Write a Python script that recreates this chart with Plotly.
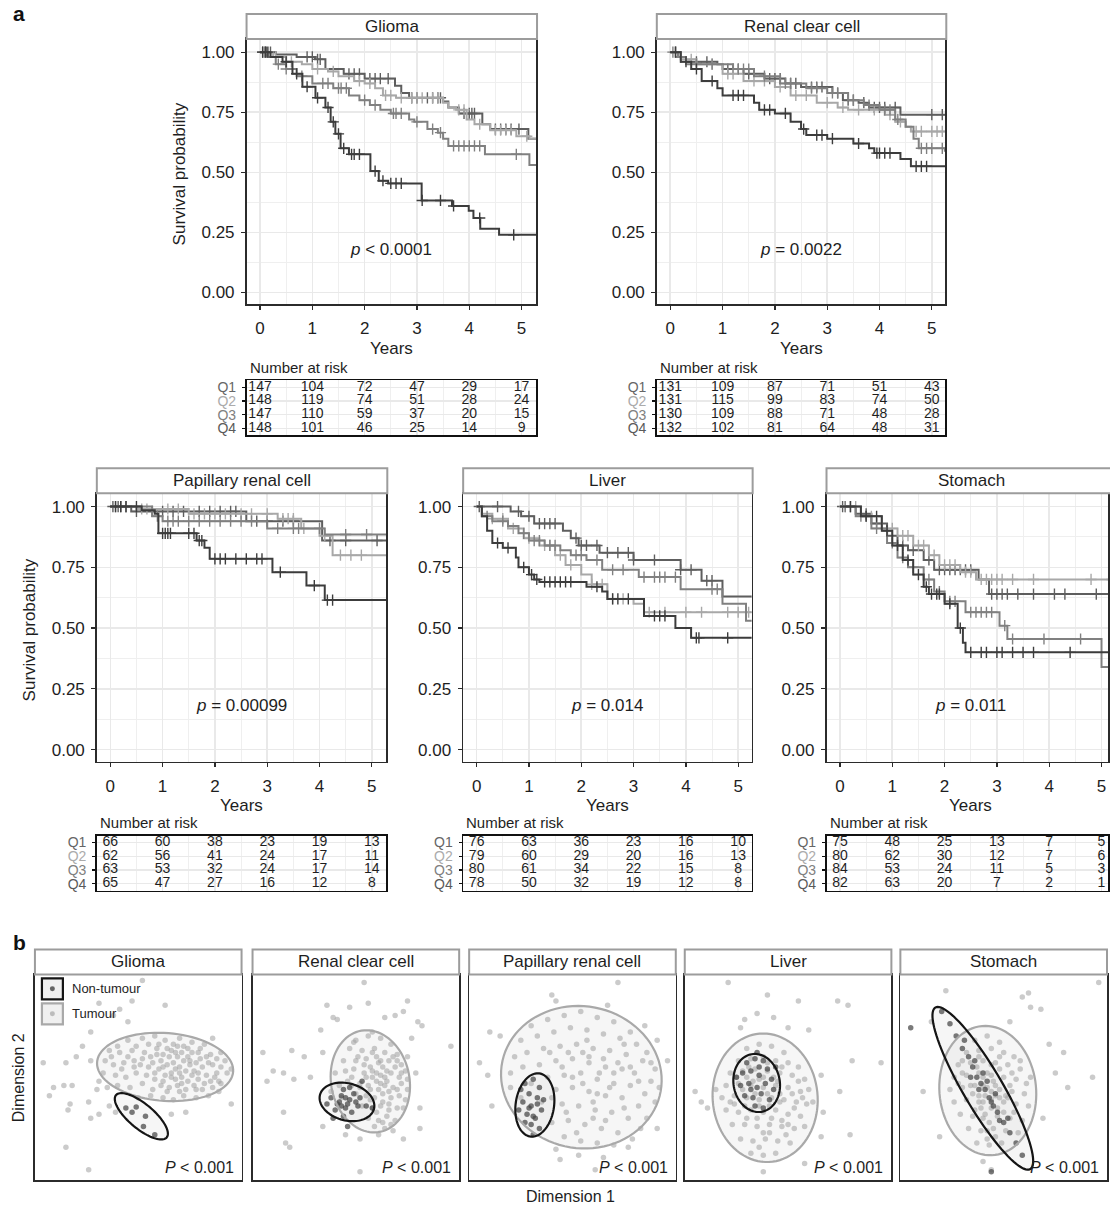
import numpy as np
import plotly.graph_objects as go

W, H = 1110, 1207
FONT = "Liberation Sans, Arial, Helvetica, sans-serif"

# ---------------------------------------------------------------- data
GROUPS = ["Q1", "Q2", "Q3", "Q4"]
YEAR_TICKS = [0, 1, 2, 3, 4, 5]
RISK_TIMES = [0, 1, 2, 3, 4, 5]
CANCERS = ["Glioma", "Renal clear cell", "Papillary renal cell", "Liver", "Stomach"]
P_VALUES_KM = ["<i>p</i> &lt; 0.0001", "<i>p</i> = 0.0022", "<i>p</i> = 0.00099",
               "<i>p</i> = 0.014", "<i>p</i> = 0.011"]
P_VALUES_PCA = ["<i>P</i> &lt; 0.001"] * 5

# Glioma KM
glioma_q1_t = [0, 0.3, 0.7, 1.05, 1.25, 1.6, 2.0, 2.58, 2.7, 2.85, 3.5, 3.6, 3.8, 4.25, 4.4, 5.13, 5.3]
glioma_q1_s = [1.0, 0.99, 0.98, 0.97, 0.93, 0.91, 0.89, 0.86, 0.83, 0.81, 0.795, 0.77, 0.745, 0.70, 0.68, 0.64, 0.64]
glioma_q1_c = [0.05, 0.12, 0.2, 0.9, 1.0, 1.1, 1.15, 1.7, 1.8, 1.9, 2.1, 2.2, 2.3, 2.45, 2.9, 3.0, 3.2, 3.3, 3.4, 3.45, 3.9, 4.0, 4.05, 4.1, 4.5, 4.6, 4.7, 4.8, 4.95]
glioma_q2_t = [0, 0.25, 0.5, 0.8, 1.0, 1.3, 1.5, 1.8, 2.0, 2.2, 2.35, 2.6, 3.5, 3.6, 3.75, 3.95, 4.1, 4.4, 4.9, 5.15, 5.3]
glioma_q2_s = [1.0, 0.98, 0.96, 0.95, 0.93, 0.92, 0.90, 0.88, 0.87, 0.85, 0.82, 0.81, 0.79, 0.77, 0.76, 0.72, 0.70, 0.675, 0.65, 0.64, 0.64]
glioma_q2_c = [0.1, 0.3, 0.6, 1.1, 1.4, 1.9, 2.1, 2.4, 2.5, 2.7, 2.9, 3.0, 3.1, 3.3, 3.4, 3.8, 3.9, 4.2, 4.5, 4.6, 4.7, 4.8, 5.1]
glioma_q3_t = [0, 0.15, 0.3, 0.5, 0.7, 1.0, 1.4, 1.7, 1.9, 2.1, 2.3, 2.5, 2.85, 2.95, 3.2, 3.4, 3.5, 3.6, 4.3, 5.15, 5.3]
glioma_q3_s = [1.0, 0.98, 0.95, 0.93, 0.90, 0.87, 0.85, 0.82, 0.80, 0.78, 0.76, 0.745, 0.72, 0.71, 0.68, 0.665, 0.64, 0.61, 0.575, 0.53, 0.53]
glioma_q3_c = [0.1, 0.35, 0.5, 0.8, 1.2, 1.3, 1.5, 1.55, 1.65, 2.0, 2.2, 2.55, 2.6, 2.7, 3.0, 3.3, 3.45, 3.7, 3.8, 3.9, 4.0, 4.1, 4.2, 4.9]
glioma_q4_t = [0, 0.2, 0.43, 0.62, 0.81, 1.06, 1.25, 1.35, 1.44, 1.54, 1.7, 2.11, 2.27, 2.45, 3.09, 3.67, 3.99, 4.08, 4.21, 4.57, 5.3]
glioma_q4_s = [1.0, 0.98, 0.96, 0.91, 0.856, 0.81, 0.77, 0.71, 0.66, 0.60, 0.575, 0.505, 0.465, 0.454, 0.383, 0.36, 0.34, 0.31, 0.265, 0.24, 0.24]
glioma_q4_c = [0.05, 0.1, 0.15, 0.5, 0.7, 0.9, 1.1, 1.3, 1.4, 1.5, 1.6, 1.75, 1.8, 1.9, 2.2, 2.35, 2.5, 2.6, 2.7, 3.1, 3.45, 3.7, 4.2, 4.85]

# Renal clear cell KM
renal_q1_t = [0, 0.15, 0.3, 0.9, 1.0, 1.4, 1.8, 2.2, 2.5, 3.1, 3.3, 3.6, 3.8, 4.4, 5.3]
renal_q1_s = [1.0, 0.98, 0.96, 0.95, 0.93, 0.91, 0.89, 0.87, 0.855, 0.83, 0.80, 0.79, 0.77, 0.74, 0.74]
renal_q1_c = [0.1, 0.2, 0.5, 0.7, 1.1, 1.2, 1.3, 1.5, 1.9, 2.0, 2.1, 2.3, 2.4, 2.7, 2.8, 2.9, 3.2, 3.4, 3.5, 3.7, 3.9, 4.0, 4.1, 4.3, 5.0, 5.2]
renal_q2_t = [0, 0.2, 0.5, 1.0, 1.4, 2.0, 2.3, 2.8, 3.2, 3.4, 4.1, 4.3, 4.5, 4.6, 5.3]
renal_q2_s = [1.0, 0.97, 0.95, 0.91, 0.88, 0.855, 0.82, 0.79, 0.77, 0.76, 0.74, 0.71, 0.69, 0.67, 0.67]
renal_q2_c = [0.1, 0.4, 0.8, 1.1, 1.2, 1.6, 1.8, 2.1, 2.4, 2.6, 3.0, 3.3, 3.6, 3.9, 4.2, 4.4, 4.7, 4.8, 5.0, 5.1, 5.2]
renal_q3_t = [0, 0.15, 0.3, 1.2, 1.6, 2.1, 2.6, 3.0, 3.4, 3.7, 4.0, 4.3, 4.5, 4.65, 4.75, 5.25, 5.3]
renal_q3_s = [1.0, 0.98, 0.95, 0.93, 0.90, 0.87, 0.85, 0.83, 0.80, 0.78, 0.76, 0.72, 0.69, 0.64, 0.60, 0.59, 0.59]
renal_q3_c = [0.05, 0.2, 0.5, 0.8, 1.3, 1.4, 1.5, 1.8, 2.2, 2.3, 2.7, 2.8, 3.1, 3.2, 3.5, 3.8, 4.1, 4.2, 4.35, 4.8, 4.9, 5.0, 5.2]
renal_q4_t = [0, 0.2, 0.4, 0.6, 0.9, 1.0, 1.6, 1.7, 2.0, 2.3, 2.5, 2.6, 3.0, 3.5, 3.8, 3.9, 4.4, 4.6, 5.3]
renal_q4_s = [1.0, 0.96, 0.93, 0.88, 0.85, 0.82, 0.79, 0.76, 0.745, 0.71, 0.68, 0.655, 0.64, 0.62, 0.60, 0.58, 0.555, 0.525, 0.525]
renal_q4_c = [0.1, 0.3, 0.5, 0.8, 1.2, 1.3, 1.4, 1.8, 1.9, 2.2, 2.55, 2.8, 2.9, 3.1, 3.6, 3.95, 4.0, 4.1, 4.2, 4.7, 4.8, 4.9]

# Papillary renal cell KM
papillary_q1_t = [0, 0.4, 2.6, 4.05, 5.3]
papillary_q1_s = [1.0, 0.98, 0.94, 0.86, 0.86]
papillary_q1_c = [0.05, 0.15, 0.2, 0.3, 0.5, 0.8, 1.0, 1.2, 1.4, 1.7, 1.9, 2.1, 2.3, 2.4, 2.8, 3.0, 3.3, 3.5, 4.2, 4.5, 5.1]
papillary_q2_t = [0, 0.5, 1.5, 3.2, 3.65, 4.0, 4.25, 5.3]
papillary_q2_s = [1.0, 0.99, 0.97, 0.95, 0.91, 0.88, 0.80, 0.80]
papillary_q2_c = [0.3, 0.6, 0.7, 1.1, 1.3, 1.6, 1.8, 2.0, 2.2, 2.5, 2.7, 3.0, 3.3, 3.4, 3.5, 3.7, 4.1, 4.4, 4.6, 4.8]
papillary_q3_t = [0, 0.8, 1.0, 3.0, 4.1, 5.3]
papillary_q3_s = [1.0, 0.96, 0.94, 0.91, 0.885, 0.885]
papillary_q3_c = [0.1, 0.9, 1.1, 1.2, 1.3, 1.5, 1.7, 1.9, 2.1, 2.3, 2.5, 2.7, 3.2, 3.5, 3.6, 4.0, 4.5, 4.9]
papillary_q4_t = [0, 0.6, 0.85, 0.92, 1.65, 1.8, 1.9, 3.1, 3.75, 4.1, 5.3]
papillary_q4_s = [1.0, 0.985, 0.97, 0.89, 0.86, 0.83, 0.785, 0.73, 0.675, 0.615, 0.615]
papillary_q4_c = [0.1, 0.2, 0.3, 0.5, 1.0, 1.05, 1.1, 1.15, 1.5, 1.6, 1.7, 1.75, 2.0, 2.1, 2.2, 2.4, 2.6, 2.8, 2.9, 3.25, 3.9, 4.15, 4.25]

# Liver KM
liver_q1_t = [0, 0.65, 0.85, 1.1, 1.65, 1.8, 1.95, 2.35, 3.0, 3.9, 4.3, 4.7, 5.3]
liver_q1_s = [1.0, 0.98, 0.96, 0.93, 0.90, 0.87, 0.84, 0.81, 0.78, 0.74, 0.695, 0.63, 0.63]
liver_q1_c = [0.05, 0.4, 0.8, 1.0, 1.2, 1.3, 1.4, 1.5, 1.9, 2.0, 2.1, 2.3, 2.5, 2.7, 2.9, 3.0, 3.4, 3.9, 4.1, 4.4, 4.5]
liver_q2_t = [0, 0.1, 0.3, 0.6, 0.9, 1.2, 1.5, 1.7, 2.0, 2.2, 2.5, 3.0, 3.2, 5.3]
liver_q2_s = [1.0, 0.97, 0.95, 0.91, 0.87, 0.84, 0.80, 0.76, 0.72, 0.68, 0.62, 0.60, 0.565, 0.565]
liver_q2_c = [0.3, 0.5, 0.7, 1.0, 1.3, 1.4, 1.6, 1.8, 2.2, 2.4, 2.6, 2.8, 3.3, 3.6, 4.0, 4.3, 4.8, 5.0, 5.2]
liver_q3_t = [0, 0.1, 0.3, 0.6, 0.8, 1.0, 1.3, 1.6, 1.8, 2.1, 2.4, 3.1, 3.9, 4.7, 5.15, 5.3]
liver_q3_s = [1.0, 0.96, 0.94, 0.92, 0.89, 0.86, 0.84, 0.82, 0.80, 0.78, 0.74, 0.71, 0.66, 0.60, 0.53, 0.53]
liver_q3_c = [0.2, 0.5, 0.9, 1.1, 1.2, 1.4, 1.5, 1.9, 2.0, 2.3, 2.6, 2.8, 3.2, 3.4, 3.5, 3.6, 3.8, 4.5, 4.6]
liver_q4_t = [0, 0.1, 0.2, 0.3, 0.5, 0.75, 0.8, 1.0, 1.1, 1.2, 2.1, 2.4, 2.5, 3.2, 3.8, 4.1, 5.3]
liver_q4_s = [1.0, 0.96, 0.90, 0.85, 0.83, 0.79, 0.75, 0.72, 0.70, 0.69, 0.67, 0.65, 0.62, 0.55, 0.50, 0.46, 0.46]
liver_q4_c = [0.4, 0.6, 0.9, 1.05, 1.15, 1.3, 1.4, 1.5, 1.6, 1.7, 1.8, 2.3, 2.6, 2.7, 2.9, 3.4, 3.5, 3.6, 4.2, 4.25, 4.8]

# Stomach KM
stomach_q1_t = [0, 0.3, 0.6, 0.9, 1.1, 1.3, 1.6, 1.8, 2.65, 2.85, 5.3]
stomach_q1_s = [1.0, 0.97, 0.93, 0.88, 0.84, 0.82, 0.78, 0.74, 0.70, 0.64, 0.64]
stomach_q1_c = [0.05, 0.2, 0.5, 0.7, 1.2, 1.4, 1.7, 1.9, 2.0, 2.1, 2.2, 2.3, 2.4, 2.5, 2.9, 3.0, 3.1, 3.2, 3.4, 3.7, 4.1, 4.3, 4.9]
stomach_q2_t = [0, 0.4, 0.8, 1.1, 1.4, 1.7, 1.9, 2.3, 2.6, 5.3]
stomach_q2_s = [1.0, 0.96, 0.91, 0.88, 0.84, 0.80, 0.76, 0.73, 0.70, 0.70]
stomach_q2_c = [0.1, 0.3, 0.6, 1.0, 1.2, 1.3, 1.5, 1.6, 1.8, 2.0, 2.1, 2.2, 2.4, 2.5, 2.7, 2.8, 2.9, 3.0, 3.1, 3.3, 3.7, 4.8, 5.2]
stomach_q3_t = [0, 0.3, 0.6, 0.9, 1.1, 1.3, 1.6, 1.8, 2.0, 2.4, 3.05, 3.2, 5.0, 5.3]
stomach_q3_s = [1.0, 0.96, 0.91, 0.85, 0.79, 0.75, 0.70, 0.65, 0.61, 0.565, 0.51, 0.455, 0.34, 0.34]
stomach_q3_c = [0.1, 0.4, 0.5, 0.7, 1.0, 1.2, 1.4, 1.7, 1.9, 2.1, 2.2, 2.5, 2.6, 2.7, 2.8, 2.9, 3.15, 3.3, 3.9, 4.6]
stomach_q4_t = [0, 0.4, 0.8, 1.0, 1.2, 1.4, 1.6, 1.7, 2.0, 2.25, 2.35, 2.4, 5.3]
stomach_q4_s = [1.0, 0.96, 0.90, 0.84, 0.78, 0.72, 0.67, 0.64, 0.60, 0.50, 0.44, 0.40, 0.40]
stomach_q4_c = [0.2, 0.5, 0.7, 0.9, 1.1, 1.3, 1.5, 1.65, 1.75, 1.85, 1.9, 2.1, 2.3, 2.5, 2.7, 2.8, 3.0, 3.1, 3.3, 3.5, 3.7, 4.4]

# Number at risk (rows Q1..Q4, columns years 0..5)
glioma_risk = [[147, 104, 72, 47, 29, 17], [148, 119, 74, 51, 28, 24], [147, 110, 59, 37, 20, 15], [148, 101, 46, 25, 14, 9]]
renal_risk = [[131, 109, 87, 71, 51, 43], [131, 115, 99, 83, 74, 50], [130, 109, 88, 71, 48, 28], [132, 102, 81, 64, 48, 31]]
papillary_risk = [[66, 60, 38, 23, 19, 13], [62, 56, 41, 24, 17, 11], [63, 53, 32, 24, 17, 14], [65, 47, 27, 16, 12, 8]]
liver_risk = [[76, 63, 36, 23, 16, 10], [79, 60, 29, 20, 16, 13], [80, 61, 34, 22, 15, 8], [78, 50, 32, 19, 12, 8]]
stomach_risk = [[75, 48, 25, 13, 7, 5], [80, 62, 30, 12, 7, 6], [84, 53, 24, 11, 5, 3], [82, 63, 20, 7, 2, 1]]

# Panel b: dimension-reduction scatter (arbitrary units 0-100)
glioma_tumour = [(52, 97), (31, 86), (41, 83), (47, 87), (63, 85), (38, 80), (45, 77), (27, 72), (23, 65), (20, 60),
                 (4, 57), (15, 57), (27, 58), (9, 45), (14, 46), (7, 41), (18, 46), (30, 44), (26, 38), (16, 34),
                 (17, 37), (27, 30), (31, 32), (15, 16), (26, 5), (86, 69), (89, 48), (95, 37), (89, 43), (66, 32),
                 (73, 33), (36, 36), (39, 33),
                 (45, 68), (52, 69), (58, 70), (63, 68), (70, 69), (76, 67), (82, 66), (55, 66), (67, 66), (49, 65),
                 (36, 63), (41, 62), (47, 63), (53, 62), (59, 64), (62, 61), (66, 63), (71, 62), (74, 64), (79, 62),
                 (85, 61), (88, 59), (56, 60), (69, 60), (34, 58), (38, 56), (43, 57), (48, 58), (51, 56), (57, 57),
                 (61, 58), (64, 56), (67, 57), (70, 55), (72, 58), (75, 56), (78, 57), (81, 55), (84, 57), (90, 55),
                 (60, 54), (73, 53), (33, 52), (39, 51), (44, 50), (49, 52), (54, 51), (58, 49), (63, 51), (66, 52),
                 (68, 49), (71, 50), (76, 51), (79, 49), (83, 51), (87, 50), (93, 52), (40, 46), (46, 45), (52, 47),
                 (57, 44), (61, 46), (65, 45), (69, 46), (73, 44), (77, 46), (81, 44), (86, 45), (90, 47), (50, 40),
                 (56, 41), (62, 40), (67, 39), (72, 41), (78, 40), (84, 41), (64, 43), (70, 43), (92, 58), (95, 54),
                 (31, 48), (35, 45), (68, 54), (74, 60), (65, 60), (77, 53), (71, 47), (62, 55), (80, 59), (59, 61),
                 (60, 66), (64, 64), (68, 62), (72, 65), (76, 62), (80, 64), (83, 60), (86, 56), (88, 52), (85, 48),
                 (82, 47), (78, 44), (74, 48), (70, 52), (66, 50), (62, 48), (58, 52), (55, 55), (52, 59), (48, 55),
                 (45, 60), (42, 54), (37, 60), (40, 65), (90, 62), (79, 52), (75, 58), (69, 65)]
glioma_normal = [(44, 35), (49, 35.5), (53.5, 31), (52.5, 26), (58, 22), (47, 33)]

renal_tumour = [(54, 96), (36, 85), (47, 84), (56, 86), (75, 87), (73, 82), (39, 79), (41, 78), (64, 79), (69, 80),
                (80, 77), (82, 75), (33, 73), (5, 62), (19, 63), (25, 60), (34, 62), (96, 65), (10, 53), (15, 52),
                (20, 49), (28, 50), (7, 48), (15, 33), (16, 18), (18, 16), (34, 26), (45, 22), (52, 20), (52, 4),
                (73, 20), (81, 35), (81, 25), (79, 52), (75, 60), (77, 69),
                (50, 68), (56, 70), (62, 69), (67, 66), (47, 64), (53, 63), (59, 64), (64, 62), (70, 61), (44, 58),
                (50, 58), (55, 59), (61, 57), (66, 58), (72, 56), (45, 53), (49, 54), (54, 52), (58, 53), (62, 51),
                (67, 52), (71, 50), (74, 53), (46, 48), (52, 47), (56, 46), (60, 48), (64, 46), (68, 45), (72, 47),
                (75, 44), (50, 42), (55, 41), (59, 40), (63, 42), (67, 40), (71, 41), (74, 39), (53, 36), (58, 35),
                (62, 36), (66, 34), (70, 35), (56, 30), (61, 29), (65, 31), (69, 29), (59, 26), (64, 25), (68, 24),
                (52, 45), (57, 44), (61, 44), (65, 48), (58, 50), (63, 55), (69, 55), (48, 50), (75, 49), (73, 35),
                (40, 52), (42, 46), (38, 43), (43, 40), (60, 60), (66, 43), (63, 38), (57, 55), (70, 58), (62, 47),
                (60, 52), (62, 58), (58, 62), (55, 50), (65, 53), (68, 60), (66, 37), (60, 33), (57, 39), (64, 50),
                (70, 44), (72, 52), (54, 56), (51, 60), (48, 46), (63, 28), (67, 27), (61, 22), (49, 67), (58, 72)]
renal_normal = [(38, 40), (41, 37), (43, 41), (45, 35), (47, 39), (49, 42), (51, 36), (44, 44), (40, 34), (48, 33),
                (52, 40), (46, 37), (42, 38), (50, 38), (55, 36), (36, 37), (47, 45), (53, 48), (44, 31), (58, 35),
                (46, 26), (39, 30), (45, 40), (43, 36)]

papillary_tumour = [(72, 96), (40, 90), (42, 87), (10, 72), (15, 70), (5, 57), (9, 51), (11, 36), (96, 58), (91, 68),
                    (85, 75), (67, 85), (42, 15), (53, 12), (65, 11), (61, 5), (44, 10), (77, 16), (91, 25),
                    (30, 75), (38, 78), (46, 80), (54, 82), (62, 79), (70, 77), (78, 72), (25, 68), (33, 70), (41, 72),
                    (49, 74), (57, 73), (65, 71), (73, 69), (81, 66), (86, 62), (22, 60), (28, 62), (36, 64), (44, 65),
                    (52, 66), (60, 64), (68, 63), (76, 61), (84, 58), (90, 54), (20, 52), (26, 55), (34, 56), (42, 58),
                    (50, 59), (58, 57), (66, 55), (74, 54), (80, 52), (88, 48), (92, 45), (38, 50), (46, 51), (54, 52),
                    (62, 49), (70, 47), (78, 46), (85, 42), (90, 38), (42, 44), (50, 45), (58, 43), (66, 41), (74, 40),
                    (82, 36), (86, 30), (35, 38), (45, 37), (53, 36), (61, 34), (69, 33), (77, 30), (83, 25), (40, 28),
                    (48, 29), (56, 27), (64, 25), (72, 23), (79, 20), (46, 21), (54, 19), (62, 18), (70, 17), (58, 60),
                    (48, 62), (62, 42), (55, 47), (65, 59), (72, 57), (30, 47), (75, 35), (60, 30), (52, 23), (88, 57),
                    (20, 45), (25, 40), (45, 55), (55, 62), (63, 52), (70, 52), (50, 50), (40, 40), (60, 38), (68, 45),
                    (57, 68), (75, 66), (82, 48), (47, 33), (39, 62), (66, 29), (78, 55)]
papillary_normal = [(27, 47), (31, 49), (34, 45), (29, 42), (33, 40), (26, 38), (30, 36), (35, 34), (28, 32), (32, 30),
                    (30, 27), (34, 25), (27, 28), (36, 39), (25, 44), (31, 22), (29, 35), (33, 37), (31, 31), (24, 34)]

liver_tumour = [(21, 96), (40, 90), (55, 87), (74, 87), (79, 85), (81, 58), (95, 57), (75, 43), (80, 22), (5, 43),
                (11, 35), (8, 38), (29, 78), (35, 81), (43, 79), (50, 74), (60, 73), (27, 74), (38, 4), (58, 8),
                (66, 21), (67, 33), (66, 51),
                (30, 64), (36, 66), (42, 65), (48, 62), (26, 58), (32, 59), (38, 60), (44, 58), (50, 57), (55, 55),
                (22, 52), (28, 53), (34, 54), (40, 53), (46, 52), (52, 51), (58, 49), (20, 46), (26, 47), (32, 46),
                (38, 45), (44, 46), (50, 45), (56, 43), (60, 44), (18, 40), (24, 41), (30, 40), (36, 39), (42, 40),
                (48, 39), (54, 38), (59, 37), (20, 34), (26, 33), (32, 34), (38, 33), (44, 34), (50, 32), (56, 31),
                (23, 27), (29, 27), (35, 26), (41, 27), (47, 26), (53, 25), (27, 20), (33, 19), (39, 20), (45, 19),
                (51, 18), (32, 13), (38, 12), (44, 13), (35, 30), (41, 36), (29, 36), (47, 29), (53, 35), (58, 26),
                (15, 44), (62, 38), (36, 49), (43, 50), (30, 50), (41, 23), (49, 22), (24, 37), (57, 40), (46, 42),
                (38, 50), (40, 57), (33, 48), (45, 48), (47, 55), (31, 55), (28, 44), (34, 42), (40, 42), (46, 38),
                (36, 36), (30, 30), (42, 30), (50, 27), (38, 23), (25, 50), (52, 42), (55, 48), (22, 38), (36, 16)]
liver_normal = [(30, 57), (34, 59), (38, 58), (28, 52), (32, 53), (36, 51), (40, 54), (42, 49), (27, 46), (31, 47),
                (35, 45), (39, 47), (43, 44), (29, 41), (33, 40), (37, 42), (41, 39), (34, 36), (38, 35), (35, 62),
                (44, 55), (25, 50), (32, 44), (36, 55)]

stomach_tumour = [(22, 92), (59, 89), (62, 91), (96, 96), (63, 84), (68, 83), (53, 77), (72, 66), (79, 62), (75, 52),
                  (81, 45), (93, 50), (11, 43), (19, 21), (40, 9), (44, 5), (69, 30), (15, 77),
                  (36, 68), (42, 70), (48, 67), (32, 62), (38, 63), (44, 64), (50, 62), (55, 60), (28, 56), (34, 57),
                  (40, 58), (46, 57), (52, 56), (58, 54), (26, 50), (32, 51), (38, 52), (44, 51), (50, 50), (56, 49),
                  (61, 47), (24, 44), (30, 45), (36, 46), (42, 45), (48, 44), (54, 43), (60, 42), (26, 38), (32, 39),
                  (38, 38), (44, 39), (50, 38), (56, 37), (62, 36), (29, 32), (35, 31), (41, 32), (47, 31), (53, 30),
                  (59, 29), (33, 25), (39, 24), (45, 25), (51, 24), (57, 23), (37, 18), (43, 17), (49, 18), (41, 41),
                  (45, 48), (39, 35), (47, 35), (43, 28), (35, 42), (53, 46), (48, 54), (40, 50), (46, 41), (42, 20),
                  (30, 58), (55, 33), (51, 41), (37, 55), (58, 58), (28, 47), (63, 50),
                  (42, 52), (44, 56), (40, 46), (46, 46), (48, 40), (38, 41), (44, 35), (50, 33), (36, 34), (42, 24),
                  (46, 21), (40, 30), (52, 40), (54, 52), (34, 46), (30, 52), (38, 60), (48, 60), (44, 43), (40, 38)]
stomach_normal = [(20, 82), (24, 76), (27, 70), (30, 64), (33, 60), (35, 55), (37, 50), (39, 47), (41, 44), (43, 40),
                  (45, 36), (47, 33), (50, 28), (53, 23), (56, 18), (59, 12), (36, 58), (42, 48), (44, 38), (38, 44),
                  (46, 42), (48, 29), (31, 68), (52, 30), (40, 52), (34, 50), (5, 74), (44, 4)]

# Confidence ellipses: centre x, centre y, semi-axis a, semi-axis b, angle (deg)
glioma_ell_tumour = (63, 55, 33, 16.5, -4)
glioma_ell_normal = (51.5, 31, 16, 6, -40)
renal_ell_tumour = (57, 48, 25, 19, 100)
renal_ell_normal = (45.7, 38, 13.5, 9, -15)
papillary_ell_tumour = (54.3, 50, 39, 34.5, -10)
papillary_ell_normal = (31.8, 36.5, 15.5, 9.3, 82)
liver_ell_tumour = (38.9, 40, 31.3, 25.4, 95)
liver_ell_normal = (34.8, 47.2, 14.2, 11.2, 100)
stomach_ell_tumour = (42.3, 43.5, 31.5, 23.4, 95)
stomach_ell_normal = (39.9, 44.6, 45.5, 9.5, -59.7)

# ---------------------------------------------------------------- styles
LINE_COL = {"Q1": "#5e5e5e", "Q2": "#a8a8a8", "Q3": "#808080", "Q4": "#3c3c3c"}
LABEL_COL = {"Q1": "#666666", "Q2": "#ababab", "Q3": "#808080", "Q4": "#5a5a5a"}
GRID_MAJ = "#e9e9e9"
GRID_MIN = "#efefef"
AXC = "#2b2b2b"
STRIP_COL = "#9c9c9c"
TXT = "#1e1e1e"

km_data = {
    "Glioma": [(glioma_q1_t, glioma_q1_s, glioma_q1_c), (glioma_q2_t, glioma_q2_s, glioma_q2_c),
               (glioma_q3_t, glioma_q3_s, glioma_q3_c), (glioma_q4_t, glioma_q4_s, glioma_q4_c)],
    "Renal clear cell": [(renal_q1_t, renal_q1_s, renal_q1_c), (renal_q2_t, renal_q2_s, renal_q2_c),
                         (renal_q3_t, renal_q3_s, renal_q3_c), (renal_q4_t, renal_q4_s, renal_q4_c)],
    "Papillary renal cell": [(papillary_q1_t, papillary_q1_s, papillary_q1_c), (papillary_q2_t, papillary_q2_s, papillary_q2_c),
                             (papillary_q3_t, papillary_q3_s, papillary_q3_c), (papillary_q4_t, papillary_q4_s, papillary_q4_c)],
    "Liver": [(liver_q1_t, liver_q1_s, liver_q1_c), (liver_q2_t, liver_q2_s, liver_q2_c),
              (liver_q3_t, liver_q3_s, liver_q3_c), (liver_q4_t, liver_q4_s, liver_q4_c)],
    "Stomach": [(stomach_q1_t, stomach_q1_s, stomach_q1_c), (stomach_q2_t, stomach_q2_s, stomach_q2_c),
                (stomach_q3_t, stomach_q3_s, stomach_q3_c), (stomach_q4_t, stomach_q4_s, stomach_q4_c)],
}
risk_data = {"Glioma": glioma_risk, "Renal clear cell": renal_risk, "Papillary renal cell": papillary_risk,
             "Liver": liver_risk, "Stomach": stomach_risk}
pca_data = {
    "Glioma": (glioma_tumour, glioma_normal, glioma_ell_tumour, glioma_ell_normal),
    "Renal clear cell": (renal_tumour, renal_normal, renal_ell_tumour, renal_ell_normal),
    "Papillary renal cell": (papillary_tumour, papillary_normal, papillary_ell_tumour, papillary_ell_normal),
    "Liver": (liver_tumour, liver_normal, liver_ell_tumour, liver_ell_normal),
    "Stomach": (stomach_tumour, stomach_normal, stomach_ell_tumour, stomach_ell_normal),
}

# panel geometry in pixels
KM_GEOM = {
    "Glioma": dict(l=247, r=537, t=38, b=304, st=13, tt=380, tb=435, ytitle=180),
    "Renal clear cell": dict(l=658, r=947, t=38, b=304, st=13, tt=380, tb=435, ytitle=None),
    "Papillary renal cell": dict(l=97, r=387, t=493, b=762, st=468, tt=836, tb=891, ytitle=30),
    "Liver": dict(l=464, r=753, t=493, b=762, st=468, tt=836, tb=891, ytitle=None),
    "Stomach": dict(l=828, r=1117, t=493, b=762, st=468, tt=836, tb=891, ytitle=None),
}
PCA_GEOM = {"Glioma": 35, "Renal clear cell": 253, "Papillary renal cell": 470, "Liver": 686, "Stomach": 902}
PCA_W, PCA_ST, PCA_T, PCA_B = 207, 950, 975, 1181
PX_PER_YEAR = 52.4

# ---------------------------------------------------------------- helpers
fig = go.Figure()
layout = {}
shapes = []
annotations = []
counter = [0]


def px_x(p):
    return p / W


def px_y(p):
    return 1 - p / H


def add_axes(l, r, t, b, xa, ya):
    counter[0] += 1
    n = counter[0]
    sfx = "" if n == 1 else str(n)
    xa = dict(xa)
    ya = dict(ya)
    xa.update(domain=[max(px_x(l), 0), min(px_x(r), 1)], anchor="y" + sfx, fixedrange=True)
    ya.update(domain=[px_y(b), px_y(t)], anchor="x" + sfx, fixedrange=True)
    layout["xaxis" + sfx] = xa
    layout["yaxis" + sfx] = ya
    return "x" + sfx, "y" + sfx


def strip(l, r, t, b, text):
    shapes.append(dict(type="rect", xref="paper", yref="paper", x0=px_x(l), x1=px_x(r), y0=px_y(b), y1=px_y(t),
                       line=dict(color=STRIP_COL, width=2), fillcolor="white", layer="above"))
    annotations.append(dict(x=px_x((l + r) / 2), y=px_y((t + b) / 2),
                            xref="paper", yref="paper", text=text, showarrow=False,
                            font=dict(size=17, color=TXT), xanchor="center", yanchor="middle"))


def step_value(times, surv, t):
    idx = np.searchsorted(np.asarray(times), t, side="right") - 1
    return np.asarray(surv)[idx]


def ellipse_path(params, n=90):
    cx, cy, a, b, ang = params
    th = np.linspace(0, 2 * np.pi, n)
    ang = np.deg2rad(ang)
    xs = cx + a * np.cos(th) * np.cos(ang) - b * np.sin(th) * np.sin(ang)
    ys = cy + a * np.cos(th) * np.sin(ang) + b * np.sin(th) * np.cos(ang)
    return "M " + " L ".join(f"{x:.2f},{y:.2f}" for x, y in zip(xs, ys)) + " Z"


minor_x = [i + 0.5 for i in range(-1, 6)]
minor_y = [-0.125, 0.125, 0.375, 0.625, 0.875]

# ---------------------------------------------------------------- panel a
for k, cancer in enumerate(CANCERS):
    g = KM_GEOM[cancer]
    x0 = -(13.5 / PX_PER_YEAR)
    r_clip = min(g["r"], W)
    x1c = x0 + (r_clip - g["l"]) / PX_PER_YEAR
    xa = dict(range=[x0, x1c], tickmode="array", tickvals=YEAR_TICKS, ticks="outside", ticklen=4, tickwidth=1.3,
              tickcolor=AXC, showline=True, linecolor=AXC, linewidth=1.6, mirror=True, showgrid=True,
              gridcolor=GRID_MAJ, gridwidth=1.6, zeroline=False, tickfont=dict(size=17, color=TXT, family=FONT),
              minor=dict(tickmode="array", tickvals=minor_x, showgrid=True, gridcolor=GRID_MIN, gridwidth=1),
              ticklabelstandoff=4)
    ya = dict(range=[-0.05, 1.055], tickmode="array", tickvals=[0, 0.25, 0.5, 0.75, 1.0],
              ticktext=["0.00", "0.25", "0.50", "0.75", "1.00"], ticks="outside", ticklen=4, tickwidth=1.3,
              tickcolor=AXC, showline=True, linecolor=AXC, linewidth=1.6, mirror=True, showgrid=True,
              gridcolor=GRID_MAJ, gridwidth=1.6, zeroline=False, tickfont=dict(size=17, color=TXT, family=FONT),
              minor=dict(tickmode="array", tickvals=minor_y, showgrid=True, gridcolor=GRID_MIN, gridwidth=1),
              ticklabelstandoff=3)
    xr, yr = add_axes(g["l"], r_clip, g["t"], g["b"], xa, ya)
    for gi, grp in enumerate(GROUPS):
        t, s, c = km_data[cancer][gi]
        col = LINE_COL[grp]
        fig.add_trace(go.Scatter(x=t, y=s, mode="lines", line=dict(color=col, width=2, shape="hv"),
                                 xaxis=xr, yaxis=yr, showlegend=False, hoverinfo="skip"))
        cy = [float(step_value(t, s, ci)) for ci in c]
        fig.add_trace(go.Scatter(x=c, y=cy, mode="markers",
                                 marker=dict(symbol="cross-thin", size=8, line=dict(color=col, width=1.4)),
                                 xaxis=xr, yaxis=yr, showlegend=False, hoverinfo="skip"))
    annotations.append(dict(x=2.5, y=0.18, xref=xr, yref=yr, text=P_VALUES_KM[k], showarrow=False,
                            font=dict(size=17, color=TXT), xanchor="center", yanchor="middle"))
    strip(g["l"], g["r"] + 1, g["st"], g["t"], cancer)
    annotations.append(dict(x=px_x((g["l"] + g["r"]) / 2), y=px_y(g["b"] + 44), xref="paper", yref="paper",
                            text="Years", showarrow=False, font=dict(size=17, color=TXT),
                            xanchor="center", yanchor="middle"))
    if g["ytitle"] is not None:
        annotations.append(dict(x=px_x(g["ytitle"]), y=px_y((g["t"] + g["b"]) / 2 + 2), xref="paper", yref="paper",
                                text="Survival probability", showarrow=False, textangle=-90,
                                font=dict(size=17, color=TXT), xanchor="center", yanchor="middle"))
    annotations.append(dict(x=px_x(g["l"] + 1), y=px_y(g["tt"] - 13), xref="paper", yref="paper",
                            text="Number at risk", showarrow=False, font=dict(size=15, color=TXT),
                            xanchor="left", yanchor="middle"))
    # risk table
    xa_t = dict(range=[x0, x1c], tickmode="array", tickvals=YEAR_TICKS, showticklabels=False, ticks="",
                showline=True, linecolor="#111111", linewidth=1.6, mirror=True, showgrid=True,
                gridcolor=GRID_MAJ, gridwidth=1.6, zeroline=False,
                minor=dict(tickmode="array", tickvals=minor_x, showgrid=True, gridcolor=GRID_MIN, gridwidth=1))
    ya_t = dict(range=[0.5, 4.5], tickmode="array", tickvals=[4, 3, 2, 1],
                ticktext=[f'<span style="color:{LABEL_COL[q]}">{q}</span>' for q in GROUPS],
                ticks="outside", ticklen=3, tickwidth=1.3, tickcolor="#111111", showline=True,
                linecolor="#111111", linewidth=1.6, mirror=True, showgrid=True, gridcolor=GRID_MAJ,
                gridwidth=1.4, zeroline=False, tickfont=dict(size=14, family=FONT), ticklabelstandoff=3)
    xt, yt = add_axes(g["l"], r_clip, g["tt"], g["tb"], xa_t, ya_t)
    rows = risk_data[cancer]
    tx, ty, tt = [], [], []
    for ri, grp in enumerate(GROUPS):
        for ci, tm in enumerate(RISK_TIMES):
            tx.append(tm)
            ty.append(4 - ri)
            tt.append(str(rows[ri][ci]))
    fig.add_trace(go.Scatter(x=tx, y=ty, text=tt, mode="text", textposition="middle center",
                             textfont=dict(size=14, family=FONT, color=TXT), cliponaxis=False,
                             xaxis=xt, yaxis=yt, showlegend=False, hoverinfo="skip"))

# ---------------------------------------------------------------- panel b
for k, cancer in enumerate(CANCERS):
    l = PCA_GEOM[cancer]
    r = l + PCA_W
    xa = dict(range=[0, 100], showticklabels=False, ticks="", showgrid=False, zeroline=False, showline=True,
              linecolor=AXC, linewidth=1.6, mirror=True)
    ya = dict(range=[0, 100], showticklabels=False, ticks="", showgrid=False, zeroline=False, showline=True,
              linecolor=AXC, linewidth=1.6, mirror=True)
    xr, yr = add_axes(l, min(r, W), PCA_T, PCA_B, xa, ya)
    tum, nor, ell_t, ell_n = pca_data[cancer]
    for ell in (ell_t, ell_n):
        shapes.append(dict(type="path", path=ellipse_path(ell), xref=xr, yref=yr, layer="below",
                           fillcolor="rgba(215,215,215,0.22)", line=dict(width=0)))
    fig.add_trace(go.Scatter(x=[p[0] for p in tum], y=[p[1] for p in tum], mode="markers",
                             marker=dict(size=5.5, color="rgba(160,160,160,0.55)", line=dict(width=0)),
                             xaxis=xr, yaxis=yr, showlegend=False, hoverinfo="skip"))
    fig.add_trace(go.Scatter(x=[p[0] for p in nor], y=[p[1] for p in nor], mode="markers",
                             marker=dict(size=5.5, color="rgba(65,65,65,0.7)", line=dict(width=0)),
                             xaxis=xr, yaxis=yr, showlegend=False, hoverinfo="skip"))
    for ell, lc in ((ell_t, "#a9a9a9"), (ell_n, "#151515")):
        shapes.append(dict(type="path", path=ellipse_path(ell), xref=xr, yref=yr, layer="above",
                           fillcolor="rgba(0,0,0,0)", line=dict(color=lc, width=2.2)))
    strip(l, r, PCA_ST, PCA_T, cancer)
    annotations.append(dict(x=px_x(min(r, W) - 6), y=px_y(1168), xref="paper", yref="paper",
                            text=P_VALUES_PCA[k], showarrow=False, font=dict(size=16, color=TXT),
                            xanchor="right", yanchor="middle"))

# legend inside glioma panel b
for (y0, y1, bc, dc, label) in ((979, 1000, "#151515", "rgba(65,65,65,0.8)", "Non-tumour"),
                                (1004, 1025, "#a9a9a9", "rgba(175,175,175,0.8)", "Tumour")):
    shapes.append(dict(type="rect", xref="paper", yref="paper", x0=px_x(42), x1=px_x(63), y0=px_y(y1), y1=px_y(y0),
                       line=dict(color=bc, width=2.2), fillcolor="rgba(240,240,240,1)", layer="above"))
    cx, cyp = 52.5, (y0 + y1) / 2
    shapes.append(dict(type="circle", xref="paper", yref="paper", x0=px_x(cx - 2.5), x1=px_x(cx + 2.5),
                       y0=px_y(cyp + 2.5), y1=px_y(cyp - 2.5), line=dict(width=0), fillcolor=dc, layer="above"))
    annotations.append(dict(x=px_x(70), y=px_y(cyp), xref="paper", yref="paper", text=label, showarrow=False,
                            font=dict(size=13, color=TXT), xanchor="left", yanchor="middle"))

annotations.append(dict(x=px_x(572), y=px_y(1197), xref="paper", yref="paper", text="Dimension 1", showarrow=False,
                        font=dict(size=16, color=TXT), xanchor="center", yanchor="middle"))
annotations.append(dict(x=px_x(18), y=px_y(1078), xref="paper", yref="paper", text="Dimension 2", showarrow=False,
                        textangle=-90, font=dict(size=16, color=TXT), xanchor="center", yanchor="middle"))
annotations.append(dict(x=px_x(11), y=px_y(13), xref="paper", yref="paper", text="<b>a</b>", showarrow=False,
                        font=dict(size=21, color="#111111"), xanchor="left", yanchor="middle"))
annotations.append(dict(x=px_x(11), y=px_y(943), xref="paper", yref="paper", text="<b>b</b>", showarrow=False,
                        font=dict(size=21, color="#111111"), xanchor="left", yanchor="middle"))

fig.update_layout(**layout)
fig.update_layout(width=W, height=H, margin=dict(l=0, r=0, t=0, b=0), paper_bgcolor="white",
                  plot_bgcolor="white", font=dict(family=FONT, color=TXT), shapes=shapes,
                  annotations=annotations, showlegend=False)
fig.write_html("out.html", config={"displayModeBar": False, "staticPlot": True},
               post_script="document.body.style.margin='0px';document.body.style.overflow='hidden';")
